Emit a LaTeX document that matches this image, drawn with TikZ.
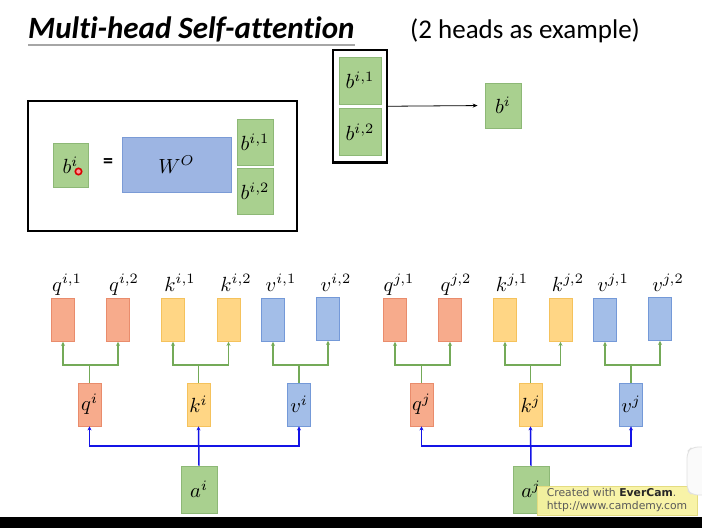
\documentclass[tikz,border=0pt]{standalone}
\usepackage{graphicx}
\usepackage{fontspec}
\setmainfont{Carlito}
\newfontfamily\wmfont{DejaVu Sans}
\usetikzlibrary{arrows.meta,fit}
\definecolor{qfill}{HTML}{F7AB8C}
\definecolor{qdraw}{HTML}{E98C6C}
\definecolor{kfill}{HTML}{FFD685}
\definecolor{kdraw}{HTML}{F5C25C}
\definecolor{vfill}{HTML}{A3BEE8}
\definecolor{vdraw}{HTML}{7499D8}
\definecolor{gfill}{HTML}{A9D08F}
\definecolor{gdraw}{HTML}{8DB876}
\definecolor{wfill}{HTML}{9DB5E3}
\definecolor{wdraw}{HTML}{7B9BD6}
\definecolor{gline}{HTML}{74AA58}
\definecolor{bline}{HTML}{1414E6}
\definecolor{wmfill}{HTML}{F8F3A0}
\definecolor{wmdraw}{HTML}{E4DC80}
\newcommand{\mbig}[1]{\scalebox{2.05}{$#1$}}
\begin{document}
\begin{tikzpicture}[x=1pt,y=-1pt,
  cell/.style={draw, line width=0.8pt, inner sep=0pt, minimum width=#1},
  qcell/.style={cell=23pt, fill=qfill, draw=qdraw, minimum height=43pt},
  kcell/.style={cell=23pt, fill=kfill, draw=kdraw, minimum height=43pt},
  vcell/.style={cell=23pt, fill=vfill, draw=vdraw, minimum height=43pt},
  gcell/.style={cell=36pt, fill=gfill, draw=gdraw, minimum height=46pt},
  lbl/.style={inner sep=0pt},
  frame/.style={draw=black, line width=2.6pt, inner sep=0pt},
  garrow/.style={draw=gline, line width=1.4pt, -{Stealth[length=4pt,width=4pt]}},
  gline/.style={draw=gline, line width=1.4pt},
  barrow/.style={draw=bline, line width=1.5pt, -{Stealth[length=4pt,width=4pt]}},
  bline/.style={draw=bline, line width=1.5pt}]
\useasboundingbox (0,0) rectangle (702,528);
\fill[white] (0,0) rectangle (702,528);

% title
\node[anchor=base west, inner sep=0pt, font=\fontsize{31}{34}\selectfont\addfontfeatures{Ligatures=NoCommon}\bfseries\itshape] (title) at (28,38) {Multi-head Self-attention};
\draw[gray!70, line width=1.2pt] (title.south west |- 0,45) -- (title.south east |- 0,45);
\node[anchor=base west, inner sep=0pt, font=\fontsize{27}{30}\selectfont] (note) at (410,38) {(2 heads as example)};

% top middle concatenation
\node[gcell, minimum width=42pt, minimum height=47pt] (tb1) at (360,80.5) {\mbig{b^{i,1}}};
\node[gcell, minimum width=42pt, minimum height=47pt] (tb2) at (360,132) {\mbig{b^{i,2}}};
\node[frame, fit=(tb1)(tb2), inner xsep=5.5pt, inner ysep=6.5pt] (tbox) {};
\node[gcell, minimum width=36pt, minimum height=45pt] (bout) at (503,105.5) {\mbig{b^{i}}};
\draw[line width=0.8pt, -{Stealth[length=5pt,width=4pt]}, shorten >=7pt] (tbox.east) -- (bout.west);

% left frame: b^i = W^O [b^{i,1}; b^{i,2}]
\node[frame, minimum width=269pt, minimum height=130pt] (lframe) at (162.5,166) {};
\node[gcell, minimum width=35pt, minimum height=44pt] (bl) at (70.5,165) {\mbig{b^{i}}};
\draw[red!85!black, line width=1.6pt, fill=red!40] (78.5,171.5) circle (3.2pt);
\node[font=\fontsize{20}{22}\selectfont\bfseries] (eq) at (108,163) {=};
\node[cell=109pt, fill=wfill, draw=wdraw, minimum height=55pt] (wo) at (176.5,164.5) {\mbig{W^{O}}};
\node[gcell, minimum width=36pt, minimum height=46pt] (bl1) at (255,142) {\mbig{b^{i,1}}};
\node[gcell, minimum width=36pt, minimum height=46pt] (bl2) at (255,191) {\mbig{b^{i,2}}};

% two bottom groups
\foreach \g/\o in {i/0, j/332} {
  \begin{scope}[xshift=\o pt]
    % head outputs
    \node[qcell] (q1\g) at (63,320) {};
    \node[qcell] (q2\g) at (118,320) {};
    \node[kcell] (k1\g) at (173,320) {};
    \node[kcell] (k2\g) at (228.5,320) {};
    \node[vcell] (v1\g) at (273,320) {};
    \node[vcell] (v2\g) at (328,319) {};
    \node[lbl, anchor=base] (lq1\g) at (67,291) {\mbig{q^{\g,1}}};
    \node[lbl, anchor=base] (lq2\g) at (124,291) {\mbig{q^{\g,2}}};
    \node[lbl, anchor=base] (lk1\g) at (180,291) {\mbig{k^{\g,1}}};
    \node[lbl, anchor=base] (lk2\g) at (236,291) {\mbig{k^{\g,2}}};
    \node[lbl, anchor=base] (lv1\g) at (281,291) {\mbig{v^{\g,1}}};
    \node[lbl, anchor=base] (lv2\g) at (336,291) {\mbig{v^{\g,2}}};
    % q k v
    \node[qcell] (q\g) at (89.5,404.5) {\mbig{q^{\g}}};
    \node[kcell] (k\g) at (198.5,404.5) {\mbig{k^{\g}}};
    \node[vcell] (v\g) at (299,404.5) {\mbig{v^{\g}}};
    % input
    \node[gcell, minimum width=36pt, minimum height=47pt] (a\g) at (199,489.5) {\mbig{a^{\g}}};
    % green split connectors
    \coordinate (sq\g) at (89.5,365);
    \coordinate (sk\g) at (198.5,365);
    \coordinate (sv\g) at (299,365);
    \draw[gline] (q\g.north) -- (sq\g);
    \draw[garrow] (sq\g) -| (q1\g.south);
    \draw[garrow] (sq\g) -| (q2\g.south);
    \draw[gline] (k\g.north) -- (sk\g);
    \draw[garrow] (sk\g) -| (k1\g.south);
    \draw[garrow] (sk\g) -| (k2\g.south);
    \draw[gline] (v\g.north) -- (sv\g);
    \draw[garrow] (sv\g) -| (v1\g.south);
    \draw[garrow] (sv\g) -| (v2\g.south);
    % blue connectors
    \coordinate (ba\g) at (198.5,446);
    \draw[barrow] (a\g.north) -- (k\g.south);
    \draw[barrow] (ba\g) -| (q\g.south);
    \draw[barrow] (ba\g) -| (v\g.south);
  \end{scope}
}

% watermark
\node[draw=wmdraw, fill=wmfill, fill opacity=0.92, text opacity=1, line width=0.6pt,
      minimum width=160pt, minimum height=29pt, inner xsep=3pt, inner ysep=1.5pt, align=left,
      font=\wmfont\fontsize{10.8}{13}\selectfont\color{black!65}] (wm) at (617,500.5)
  {Created with \textbf{\color{black!85}EverCam}.\\http://www.camdemy.com};
\draw[black!12, line width=0.8pt, rounded corners=6pt, fill=black!2] (702,447) -- (692,447) -- (687,452) -- (687,490) -- (692,495) -- (702,495);

% bottom bar
\fill[black] (0,517) rectangle (702,528);
\end{tikzpicture}
\end{document}
